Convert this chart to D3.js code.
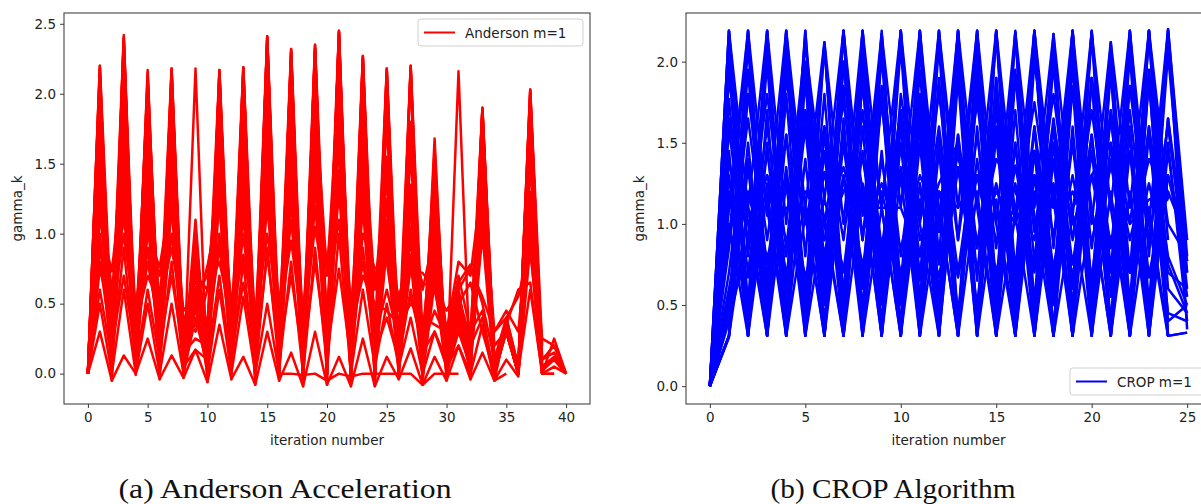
<!DOCTYPE html>
<html>
<head>
<meta charset="utf-8">
<script src="https://cdn.jsdelivr.net/npm/d3@7"></script>
<style>
  body { margin: 0; background: #fff; }
  svg { display: block; }
</style>
</head>
<body>
<svg id="chart" width="1201" height="504"></svg>
<script>
// gamma_k per iteration
var andersonSeries = [
  [0, 2.2, -0.05, 2.42, -0.01, 2.17, -0.04, 2.18, -0.03, 2.18, -0.06, 2.17, -0.04, 2.19, -0.08, 2.41, -0.05, 2.32, -0.09, 2.35, -0.08, 2.45, -0.09, 2.27, -0.09, 2.18, -0.04, 2.2, -0.08, 1.68, -0.05, 2.16, -0.04, 1.9, 0.0, 0.3, 0.0, 2.03, 0.0, 0.25, 0.0],
  [0, 2.15, 0.0, 2.38, 0.02, 2.1, 0.0, 2.15, 0.05, 1.1, 0.0, 2.12, 0.0, 2.15, -0.02, 2.35, 0.0, 2.28, -0.05, 2.3, 0.0, 2.4, -0.05, 2.2, -0.05, 2.1, 0.0, 2.15, -0.03, 1.6, 0.0, 0.6, 0.1, 1.85, 0.0, 0.35, 0.05, 1.95, 0.02, 0.1, 0.0],
  [0, 2.0, 0.1, 2.3, 0.05, 1.72, 0.08, 2.1, 0.05, 0.9, 0.1, 2.05, 0.05, 2.1, 0.0, 2.3, 0.05, 2.2, 0.0, 2.25, 0.05, 1.45, 0.0, 2.1, 0.02, 1.9, 0.05, 1.35, 0.0, 1.2, 0.05, 0.4, 0.0, 1.7, 0.05, 0.3, 0.0, 1.8, 0.0],
  [0, 1.8, 0.15, 2.1, 0.1, 1.5, 0.12, 1.9, 0.1, 0.7, 0.15, 1.8, 0.1, 1.9, 0.05, 2.1, 0.1, 2.0, 0.05, 2.1, 0.1, 2.2, 0.05, 1.9, 0.1, 1.55, 0.1, 1.2, 0.05, 0.9, 0.1, 0.35, 0.15, 1.5, 0.0, 0.33, 0.0, 1.6, 0.0, 0.05, 0.0],
  [0, 1.4, 0.2, 1.8, 0.15, 1.3, 0.2, 1.6, 0.15, 0.55, 0.2, 1.5, 0.15, 1.6, 0.1, 1.8, 0.15, 1.7, 0.1, 1.8, 0.15, 1.9, 0.1, 1.6, 0.15, 1.1, 0.15, 0.85, 0.1, 0.7, 0.15, 0.3, 0.2, 1.3, 0.05, 0.3, 0.0, 1.3, 0.0, 0.0],
  [0, 1.1, 0.73, 1.5, 0.2, 1.0, 0.76, 1.3, 0.2, 0.45, 0.77, 1.2, 0.2, 1.3, 0.15, 1.5, 0.2, 1.4, 0.15, 1.5, 0.77, 1.6, 0.15, 1.0, 0.75, 0.8, 0.2, 0.75, 0.72, 0.6, 0.2, 0.65, 0.78, 0.5, 0.1, 0.35, 0.6, 0.65, 0.0],
  [0, 0.9, 0.3, 1.2, 0.25, 0.8, 0.3, 1.0, 0.25, 0.35, 0.3, 0.9, 0.25, 1.0, 0.2, 1.2, 0.25, 1.1, 0.2, 1.2, 0.25, 1.3, 0.2, 0.8, 0.25, 0.6, 0.25, 0.55, 0.2, 0.45, 0.25, 0.7, 0.3, 0.45, -0.05, 0.0],
  [0, 0.6, 0.1, 0.9, 0.05, 0.6, 0.1, 0.8, 0.05, 0.17, 0.1, 0.7, 0.05, 0.8, 0.0, 0.9, 0.05, 0.8, 0.0, 0.9, 0.05, 1.0, 0.0, 0.6, 0.05, 0.5, 0.05, 0.4, 0.0, 0.3, 0.05, 0.2, 0.0, 0.35, -0.05, 0.35],
  [0, 0.3, -0.05, 0.13, 0.0, 0.25, -0.04, 0.13, -0.03, 0.17, -0.06, 0.35, -0.04, 0.12, -0.08, 0.3, -0.05, 0.15, -0.09, 0.3, -0.08, 0.12, -0.09, 0.25, -0.09, 0.12, -0.04, 0.18, -0.08, 0.12, -0.05, 0.2, -0.04, 0.15, -0.05, 0.1, -0.02, 0.9, 0.0, 0.0],
  [0, 0.5, 0.0, 0.6, 0.0, 0.5, 0.0, 0.5, 0.0, 0.5, 0.0, 0.6, 0.0, 0.55, 0.0, 0.5, 0.0, 0.0, -0.01, 0.0, -0.05, 0.0, -0.02, 0.0, 0.0, 0.0, 0.0, 0.0, -0.08, 0.0, 0.0, 0.0],
  [0, 2.2, 0.3, 2.4, 0.25, 2.0, 0.3, 2.18, 0.2, 0.85, 0.3, 2.17, 0.25, 2.19, 0.2, 2.41, 0.25, 2.32, 0.2, 2.35, 0.3, 2.45, 0.2, 2.27, 0.25, 2.18, 0.2, 2.2, 0.25, 1.0, 0.2, 0.55, 0.25, 1.9, 0.1, 0.4, 0.05, 2.03, 0.2],
  [0, 1.6, 0.5, 2.0, 0.4, 1.6, 0.5, 1.7, 0.35, 0.7, 0.6, 1.7, 0.4, 1.8, 0.35, 2.0, 0.4, 1.9, 0.35, 2.0, 0.7, 2.1, 0.4, 1.8, 0.6, 1.5, 0.45, 1.15, 0.6, 1.0, 0.3, 0.8, 0.7, 1.4, 0.3, 0.45, 0.3, 1.2, 0.25, 0.2, 0.0],
  [0, 1.9, 0.05, 2.25, 0.1, 1.9, 0.05, 2.0, 0.05, 1.0, 0.05, 1.95, 0.05, 2.0, -0.05, 2.2, 0.0, 2.1, -0.05, 2.2, 0.0, 2.3, -0.05, 2.05, -0.05, 1.95, 0.0, 1.6, -0.05, 1.4, 0.0, 0.5, 0.05, 1.75, 0.0, 0.4, 0.05, 1.9, 0.0],
  [0, 1.25, 0.25, 1.6, 0.3, 1.2, 0.25, 1.45, 0.3, 0.6, 0.25, 1.35, 0.3, 1.45, 0.25, 1.65, 0.3, 1.55, 0.25, 1.65, 0.3, 1.75, 0.25, 1.4, 0.3, 1.0, 0.3, 0.95, 0.25, 0.8, 0.3, 0.4, 0.25, 1.1, 0.2, 0.3, 0.0, 1.1, 0.0],
  [0, 0.75, 0.4, 1.0, 0.35, 0.7, 0.5, 0.9, 0.4, 0.3, 0.6, 0.8, 0.4, 0.85, 0.35, 1.0, 0.4, 0.95, 0.3, 1.05, 0.5, 1.1, 0.3, 0.7, 0.5, 0.45, 0.35, 0.5, 0.4, 0.35, 0.3, 0.5, 0.65, 0.3, 0.0, 0.3, 0.0],
  [0, 2.1, 0.2, 2.35, 0.15, 2.1, 0.2, 2.1, 0.15, 0.95, 0.2, 2.1, 0.15, 2.1, 0.1, 2.38, 0.15, 2.25, 0.1, 2.3, 0.15, 2.42, 0.1, 2.22, 0.15, 2.0, 0.1, 1.8, 0.15, 1.5, 0.1, 0.6, 0.1, 1.88, 0.1, 0.3, 0.0, 1.98, 0.1, 0.15, 0.0],
  [0, 2.05, 0.25, 2.2, 0.2, 1.95, 0.25, 2.05, 0.2, 0.8, 0.25, 2.0, 0.2, 2.05, 0.15, 2.25, 0.2, 2.15, 0.15, 2.2, 0.25, 2.35, 0.15, 2.1, 0.2, 1.8, 0.15, 1.7, 0.2, 1.3, 0.15, 0.45, 0.2, 1.8, 0.05, 0.35, 0.05, 1.85, 0.1, 0.2, 0.0],
  [0, 1.95, -0.02, 2.35, 0.05, 2.05, -0.02, 2.12, 0.0, 0.75, -0.03, 2.15, 0.02, 2.17, -0.05, 2.4, -0.02, 2.3, -0.06, 2.32, -0.04, 2.44, -0.06, 2.25, -0.06, 2.15, -0.02, 2.18, -0.05, 1.55, -0.03, 0.5, 0.0, 1.88, -0.03, 0.35, 0.0, 2.0, 0.0],
  [0, 1.7, 0.3, 1.95, 0.28, 1.65, 0.3, 1.8, 0.25, 0.62, 0.35, 1.85, 0.3, 1.75, 0.25, 1.95, 0.3, 1.85, 0.25, 1.95, 0.35, 2.05, 0.25, 1.75, 0.3, 1.4, 0.25, 1.3, 0.3, 1.1, 0.25, 0.38, 0.3, 1.6, 0.2, 0.3, 0.05, 1.7, 0.05, 0.1, 0.0],
  [0, 1.5, 0.1, 1.7, 0.05, 1.4, 0.1, 1.55, 0.08, 0.5, 0.05, 1.6, 0.08, 1.55, 0.03, 1.75, 0.05, 1.65, 0.02, 1.75, 0.05, 1.8, 0.02, 1.5, 0.05, 1.25, 0.05, 1.05, 0.0, 0.95, 0.05, 0.35, 0.05, 1.45, 0.0, 0.32, 0.0, 1.5, 0.0],
  [0, 1.0, 0.05, 1.3, 0.0, 1.1, 0.05, 1.2, 0.0, 0.4, 0.05, 1.25, 0.0, 1.2, -0.02, 1.35, 0.0, 1.3, -0.03, 1.4, 0.0, 1.45, -0.03, 1.2, 0.0, 0.9, 0.0, 0.8, -0.02, 0.65, 0.0, 0.3, 0.05, 1.0, 0.0, 0.3, 0.0, 1.0, 0.0],
  [0, 0.8, 0.2, 0.7, 0.15, 0.9, 0.2, 0.7, 0.15, 0.25, 0.2, 1.0, 0.15, 0.65, 0.1, 0.85, 0.15, 0.7, 0.1, 0.8, 0.15, 0.75, 0.1, 0.9, 0.15, 0.4, 0.1, 0.6, 0.15, 0.3, 0.1, 0.55, 0.2, 0.4, 0.0, 0.35, 0.02, 0.6, 0.0],
  [0, 2.18, 0.12, 2.4, 0.08, 2.15, 0.1, 2.17, 0.08, 0.8, 0.1, 2.15, 0.08, 2.18, 0.05, 2.4, 0.08, 2.3, 0.05, 2.33, 0.1, 2.44, 0.05, 2.26, 0.08, 2.16, 0.05, 2.19, 0.08, 1.2, 0.05, 0.45, 0.1, 1.89, 0.05, 0.33, 0.02, 2.02, 0.05, 0.12, 0.0],
  [0, 1.3, 0.6, 1.1, 0.5, 1.0, 0.7, 1.2, 0.45, 0.55, 0.7, 1.4, 0.5, 1.1, 0.4, 1.3, 0.5, 1.2, 0.45, 1.3, 0.75, 1.45, 0.5, 1.2, 0.7, 0.9, 0.55, 0.85, 0.65, 0.6, 0.45, 0.6, 0.75, 0.55, 0.3, 0.4, 0.55, 0.9, 0.0],
  [0, 1.2, 0.15, 1.4, 0.2, 1.15, 0.1, 1.35, 0.2, 0.45, 0.15, 1.3, 0.2, 1.4, 0.1, 1.55, 0.2, 1.45, 0.1, 1.55, 0.2, 1.65, 0.1, 1.3, 0.2, 0.95, 0.1, 1.0, 0.15, 0.75, 0.2, 0.35, 0.1, 1.2, 0.1, 0.3, 0.02, 1.25, 0.0]
];

var cropSeries = [
  [0, 2.19, 0.31, 2.14, 0.31, 2.19, 0.31, 2.19, 0.31, 2.17, 0.31, 2.18, 0.31, 2.19, 0.31, 2.19, 0.31, 2.19, 0.31, 2.19, 0.31, 2.12, 0.31, 2.19, 0.31, 0.33],
  [0, 0.31, 2.19, 0.31, 2.19, 0.31, 2.12, 0.31, 2.19, 0.31, 2.19, 0.31, 2.19, 0.31, 2.19, 0.31, 2.18, 0.31, 2.17, 0.31, 2.18, 0.31, 2.19, 0.31, 2.2, 0.9],
  [0, 1.77, 0.45, 2.0, 0.38, 1.9, 0.5, 1.85, 0.4, 2.05, 0.35, 1.95, 0.45, 2.1, 0.36, 1.9, 0.42, 2.1, 0.5, 2.0, 0.38, 1.95, 0.4, 1.9, 0.31],
  [0, 0.5, 1.95, 0.4, 2.1, 0.45, 1.8, 0.35, 2.0, 0.5, 2.1, 0.4, 1.9, 0.35, 2.05, 0.45, 1.95, 0.4, 2.0, 0.45, 1.9, 0.38, 2.05, 0.42, 1.65, 0.77],
  [0, 1.58, 0.7, 1.6, 0.65, 1.7, 0.8, 1.5, 0.7, 1.75, 0.6, 1.65, 0.75, 1.55, 0.68, 1.7, 0.6, 1.6, 0.72, 1.5, 0.66, 1.65, 0.7, 1.6, 0.8, 0.5],
  [0, 0.7, 1.65, 0.75, 1.55, 0.6, 1.32, 0.7, 1.7, 0.65, 1.6, 0.8, 1.6, 0.7, 1.55, 0.6, 1.36, 0.7, 1.65, 0.75, 1.55, 0.6, 1.7, 0.68, 1.3, 0.77],
  [0, 1.37, 1.0, 1.3, 0.9, 1.2, 1.0, 1.35, 0.95, 1.25, 0.85, 1.3, 1.0, 1.42, 0.9, 1.2, 1.0, 1.3, 0.95, 1.2, 0.9, 1.35, 1.0, 1.15, 1.2, 0.9],
  [0, 1.1, 1.1, 0.8, 1.1, 1.1, 0.9, 1.5, 1.1, 1.1, 1.1, 0.8, 1.2, 1.1, 1.3, 0.9, 1.1, 1.15, 1.1, 1.1, 1.3, 0.9, 1.05, 1.1, 1.15],
  [0, 0.3, 1.5, 0.31, 1.8, 0.31, 1.6, 0.31, 1.9, 0.31, 1.7, 0.31, 1.55, 0.31, 1.85, 0.31, 1.7, 0.31, 1.5, 0.31, 1.9, 0.31, 1.6, 0.31, 1.45, 0.55],
  [0, 2.0, 0.31, 1.7, 0.31, 1.9, 0.31, 1.6, 0.31, 1.8, 0.31, 1.5, 0.31, 1.9, 0.31, 1.75, 0.31, 1.6, 0.31, 1.85, 0.31, 1.7, 0.31, 1.9, 0.31],
  [0, 1.0, 0.31, 1.2, 0.31, 1.05, 0.31, 1.3, 0.31, 1.1, 0.31, 1.25, 0.31, 1.55, 0.31, 1.15, 0.31, 1.3, 0.31, 1.05, 0.31, 1.2, 0.31, 1.1, 0.31, 0.33],
  [0, 0.31, 1.1, 0.31, 1.25, 0.31, 1.05, 0.31, 1.2, 0.31, 1.3, 0.31, 1.1, 0.31, 1.2, 0.31, 1.05, 0.31, 1.25, 0.31, 1.1, 0.31, 1.2, 0.31, 1.3, 0.9],
  [0, 0.9, 2.19, 0.6, 2.19, 0.8, 2.1, 0.55, 2.19, 0.7, 2.19, 0.65, 2.19, 0.9, 2.19, 0.6, 2.15, 0.75, 2.1, 0.6, 2.19, 0.7, 2.19, 0.8, 2.19, 0.35],
  [0, 2.19, 0.8, 2.1, 0.6, 2.19, 0.7, 2.19, 0.9, 2.1, 0.6, 2.19, 0.8, 2.19, 0.65, 2.19, 0.7, 2.19, 0.85, 2.19, 0.6, 2.05, 0.7, 2.19, 0.9],
  [0, 1.2, 0.45, 1.45, 0.55, 1.6, 0.4, 1.5, 0.5, 1.4, 0.6, 1.7, 0.45, 1.35, 0.5, 1.6, 0.4, 1.45, 0.55, 1.5, 0.45, 1.4, 0.5, 1.6, 0.45, 0.4],
  [0, 0.55, 1.4, 0.5, 1.35, 0.45, 1.55, 0.5, 1.45, 0.4, 1.6, 0.55, 1.5, 0.45, 1.4, 0.5, 1.5, 0.45, 1.6, 0.5, 1.45, 0.4, 1.55, 0.45, 1.65, 0.6],
  [0, 0.4, 0.9, 1.3, 0.8, 1.6, 0.9, 1.2, 1.4, 0.8, 1.7, 0.9, 1.25, 1.5, 0.85, 1.4, 1.2, 0.9, 1.6, 1.0, 1.3, 1.5, 0.9, 1.4, 1.15],
  [0, 1.9, 1.0, 0.31, 1.9, 1.1, 0.31, 2.0, 1.2, 0.31, 1.8, 1.0, 0.31, 1.95, 1.1, 0.31, 1.9, 1.05, 0.31, 2.0, 1.1, 0.31, 1.85, 1.0, 0.31],
  [0, 0.31, 1.8, 1.1, 0.31, 2.0, 1.0, 0.31, 1.9, 1.1, 0.31, 2.05, 1.1, 0.31, 1.9, 1.0, 0.31, 2.0, 1.15, 0.31, 1.9, 1.1, 0.31, 1.95, 0.75, 0.45],
  [0, 1.45, 0.31, 2.19, 0.5, 1.7, 0.31, 2.0, 0.6, 2.19, 0.31, 1.8, 0.5, 2.19, 0.31, 1.9, 0.55, 2.19, 0.31, 2.1, 0.5, 1.95, 0.31, 2.19, 0.4, 0.5],
  [0, 2.1, 0.5, 2.19, 0.4, 2.0, 0.6, 2.19, 0.45, 2.1, 0.5, 2.19, 0.55, 2.05, 0.4, 2.19, 0.5, 2.1, 0.6, 2.19, 0.45, 2.0, 0.5, 2.19, 0.6, 0.45],
  [0, 0.45, 2.1, 0.5, 2.0, 0.55, 2.1, 0.45, 2.05, 0.6, 2.19, 0.5, 2.1, 0.4, 2.0, 0.55, 2.19, 0.5, 2.1, 0.45, 2.19, 0.55, 2.1, 0.5, 2.05, 0.7],
  [0, 1.65, 0.9, 1.8, 0.85, 1.9, 1.0, 1.75, 0.9, 1.85, 0.8, 1.7, 0.95, 1.9, 0.85, 1.8, 1.0, 1.75, 0.9, 1.95, 0.85, 1.7, 1.0, 1.85, 1.0, 0.8],
  [0, 0.85, 1.8, 0.9, 1.75, 1.0, 1.6, 0.9, 1.85, 0.85, 1.7, 1.0, 1.8, 0.9, 1.75, 0.85, 1.9, 0.95, 1.8, 0.9, 1.7, 0.85, 1.85, 0.9, 1.6, 0.7],
  [0, 1.3, 0.31, 1.5, 0.31, 1.4, 0.31, 1.65, 0.31, 1.45, 0.31, 1.6, 0.31, 1.5, 0.31, 1.55, 0.31, 1.45, 0.31, 1.6, 0.31, 1.5, 0.31, 1.55, 0.31],
  [0, 0.31, 1.35, 0.31, 1.55, 0.31, 1.45, 0.31, 1.6, 0.31, 1.5, 0.31, 1.45, 0.31, 1.6, 0.31, 1.5, 0.31, 1.4, 0.31, 1.55, 0.31, 1.45, 0.31, 1.5, 0.4],
  [0, 2.19, 1.1, 2.19, 1.0, 2.1, 1.15, 2.19, 1.05, 2.17, 1.1, 2.19, 1.0, 2.19, 1.1, 2.19, 1.05, 2.19, 1.1, 2.19, 1.0, 2.12, 1.1, 2.19, 1.15],
  [0, 1.1, 2.19, 1.05, 2.19, 1.1, 2.12, 1.0, 2.19, 1.1, 2.19, 1.05, 2.19, 1.1, 2.19, 1.0, 2.18, 1.1, 2.17, 1.05, 2.18, 1.1, 2.19, 1.0, 2.2, 0.8],
  [0, 0.95, 0.67, 1.25, 0.7, 1.1, 0.67, 1.3, 0.75, 1.2, 0.7, 1.15, 0.67, 1.35, 0.72, 1.25, 0.68, 1.2, 0.7, 1.3, 0.67, 1.15, 0.7, 1.25, 0.7, 0.6],
  [0, 0.6, 1.2, 0.7, 1.3, 0.67, 1.15, 0.72, 1.25, 0.68, 1.35, 0.7, 1.2, 0.67, 1.3, 0.7, 1.25, 0.72, 1.2, 0.68, 1.3, 0.7, 1.15, 0.67, 1.2]
];

var andersonXTicks = [0, 5, 10, 15, 20, 25, 30, 35, 40];
var andersonYTicks = [0.0, 0.5, 1.0, 1.5, 2.0, 2.5];
var cropXTicks = [0, 5, 10, 15, 20, 25];
var cropYTicks = [0.0, 0.5, 1.0, 1.5, 2.0];

var svg = d3.select("#chart");
var tickFont = "'DejaVu Sans', sans-serif";

function drawPanel(p) {
  var x = d3.scaleLinear().domain(p.xDomain).range([p.left, p.right]);
  var y = d3.scaleLinear().domain(p.yDomain).range([p.bottom, p.top]);
  var g = svg.append("g");

  var clipId = "clip-" + p.name;
  svg.append("defs").append("clipPath").attr("id", clipId)
    .append("rect").attr("x", p.left).attr("y", p.top)
    .attr("width", p.right - p.left).attr("height", p.bottom - p.top);

  var line = d3.line()
    .x(function(d, i){ return x(i); })
    .y(function(d){ return y(d); });

  g.append("g").attr("clip-path", "url(#" + clipId + ")")
    .selectAll("path").data(p.series).enter().append("path")
    .attr("d", line)
    .attr("fill", "none")
    .attr("stroke", p.color)
    .attr("stroke-width", 2.5)
    .attr("stroke-linejoin", "round");

  var xAxis = g.append("g").attr("transform", "translate(0," + p.bottom + ")")
    .call(d3.axisBottom(x).tickValues(p.xTicks).tickSizeOuter(0).tickSize(4).tickPadding(4)
      .tickFormat(d3.format("d")));
  var yAxis = g.append("g").attr("transform", "translate(" + p.left + ",0)")
    .call(d3.axisLeft(y).tickValues(p.yTicks).tickSizeOuter(0).tickSize(4).tickPadding(4)
      .tickFormat(d3.format(".1f")));
  [xAxis, yAxis].forEach(function(a){
    a.select(".domain").remove();
    a.selectAll("line").attr("stroke", "#222").attr("stroke-width", 0.9);
    a.selectAll("text").attr("font-family", tickFont).attr("font-size", 13.5).attr("fill", "#222");
  });

  g.append("rect")
    .attr("x", p.left).attr("y", p.top)
    .attr("width", p.right - p.left).attr("height", p.bottom - p.top)
    .attr("fill", "none").attr("stroke", "#333").attr("stroke-width", 1);

  g.append("text")
    .attr("x", x((p.xDomain[0] + p.xDomain[1]) / 2))
    .attr("y", 445)
    .attr("text-anchor", "middle")
    .attr("font-family", tickFont).attr("font-size", 13.5).attr("fill", "#222")
    .text("iteration number");

  g.append("text")
    .attr("transform", "translate(" + (p.left - 42) + "," + ((p.top + p.bottom) / 2) + ") rotate(-90)")
    .attr("text-anchor", "middle")
    .attr("font-family", tickFont).attr("font-size", 13.5).attr("fill", "#222")
    .text("gamma_k");

  // legend
  var lg = g.append("g").attr("transform", "translate(" + p.legend[0] + "," + p.legend[1] + ")");
  lg.append("rect").attr("width", p.legend[2]).attr("height", 27).attr("rx", 3)
    .attr("fill", "#fff").attr("fill-opacity", 0.8).attr("stroke", "#d0d0d0");
  lg.append("line").attr("x1", 6).attr("x2", 37).attr("y1", 13.5).attr("y2", 13.5)
    .attr("stroke", p.color).attr("stroke-width", 2);
  lg.append("text").attr("x", 47).attr("y", 18.5)
    .attr("font-family", tickFont).attr("font-size", 13.5).attr("fill", "#222")
    .text(p.label);

  svg.append("text")
    .attr("x", p.captionX).attr("y", 498)
    .attr("text-anchor", "middle")
    .attr("font-family", "'Liberation Serif', 'DejaVu Serif', serif")
    .attr("font-size", 27).attr("fill", "#111")
    .attr("textLength", p.captionW).attr("lengthAdjust", "spacingAndGlyphs")
    .text(p.caption);
}

drawPanel({
  name: "anderson", series: andersonSeries, color: "#ff0000",
  xDomain: [-2, 42], yDomain: [-0.217, 2.577],
  left: 64, right: 590, top: 13, bottom: 404,
  xTicks: andersonXTicks, yTicks: andersonYTicks,
  label: "Anderson m=1", legend: [418, 19, 165],
  caption: "(a) Anderson Acceleration", captionX: 285, captionW: 333
});

drawPanel({
  name: "crop", series: cropSeries, color: "#0000ff",
  xDomain: [-1.25, 26.25], yDomain: [-0.11, 2.30],
  left: 686, right: 1211, top: 13, bottom: 404,
  xTicks: cropXTicks, yTicks: cropYTicks,
  label: "CROP m=1", legend: [1070, 368, 140],
  caption: "(b) CROP Algorithm", captionX: 893, captionW: 245
});
</script>
</body>
</html>
